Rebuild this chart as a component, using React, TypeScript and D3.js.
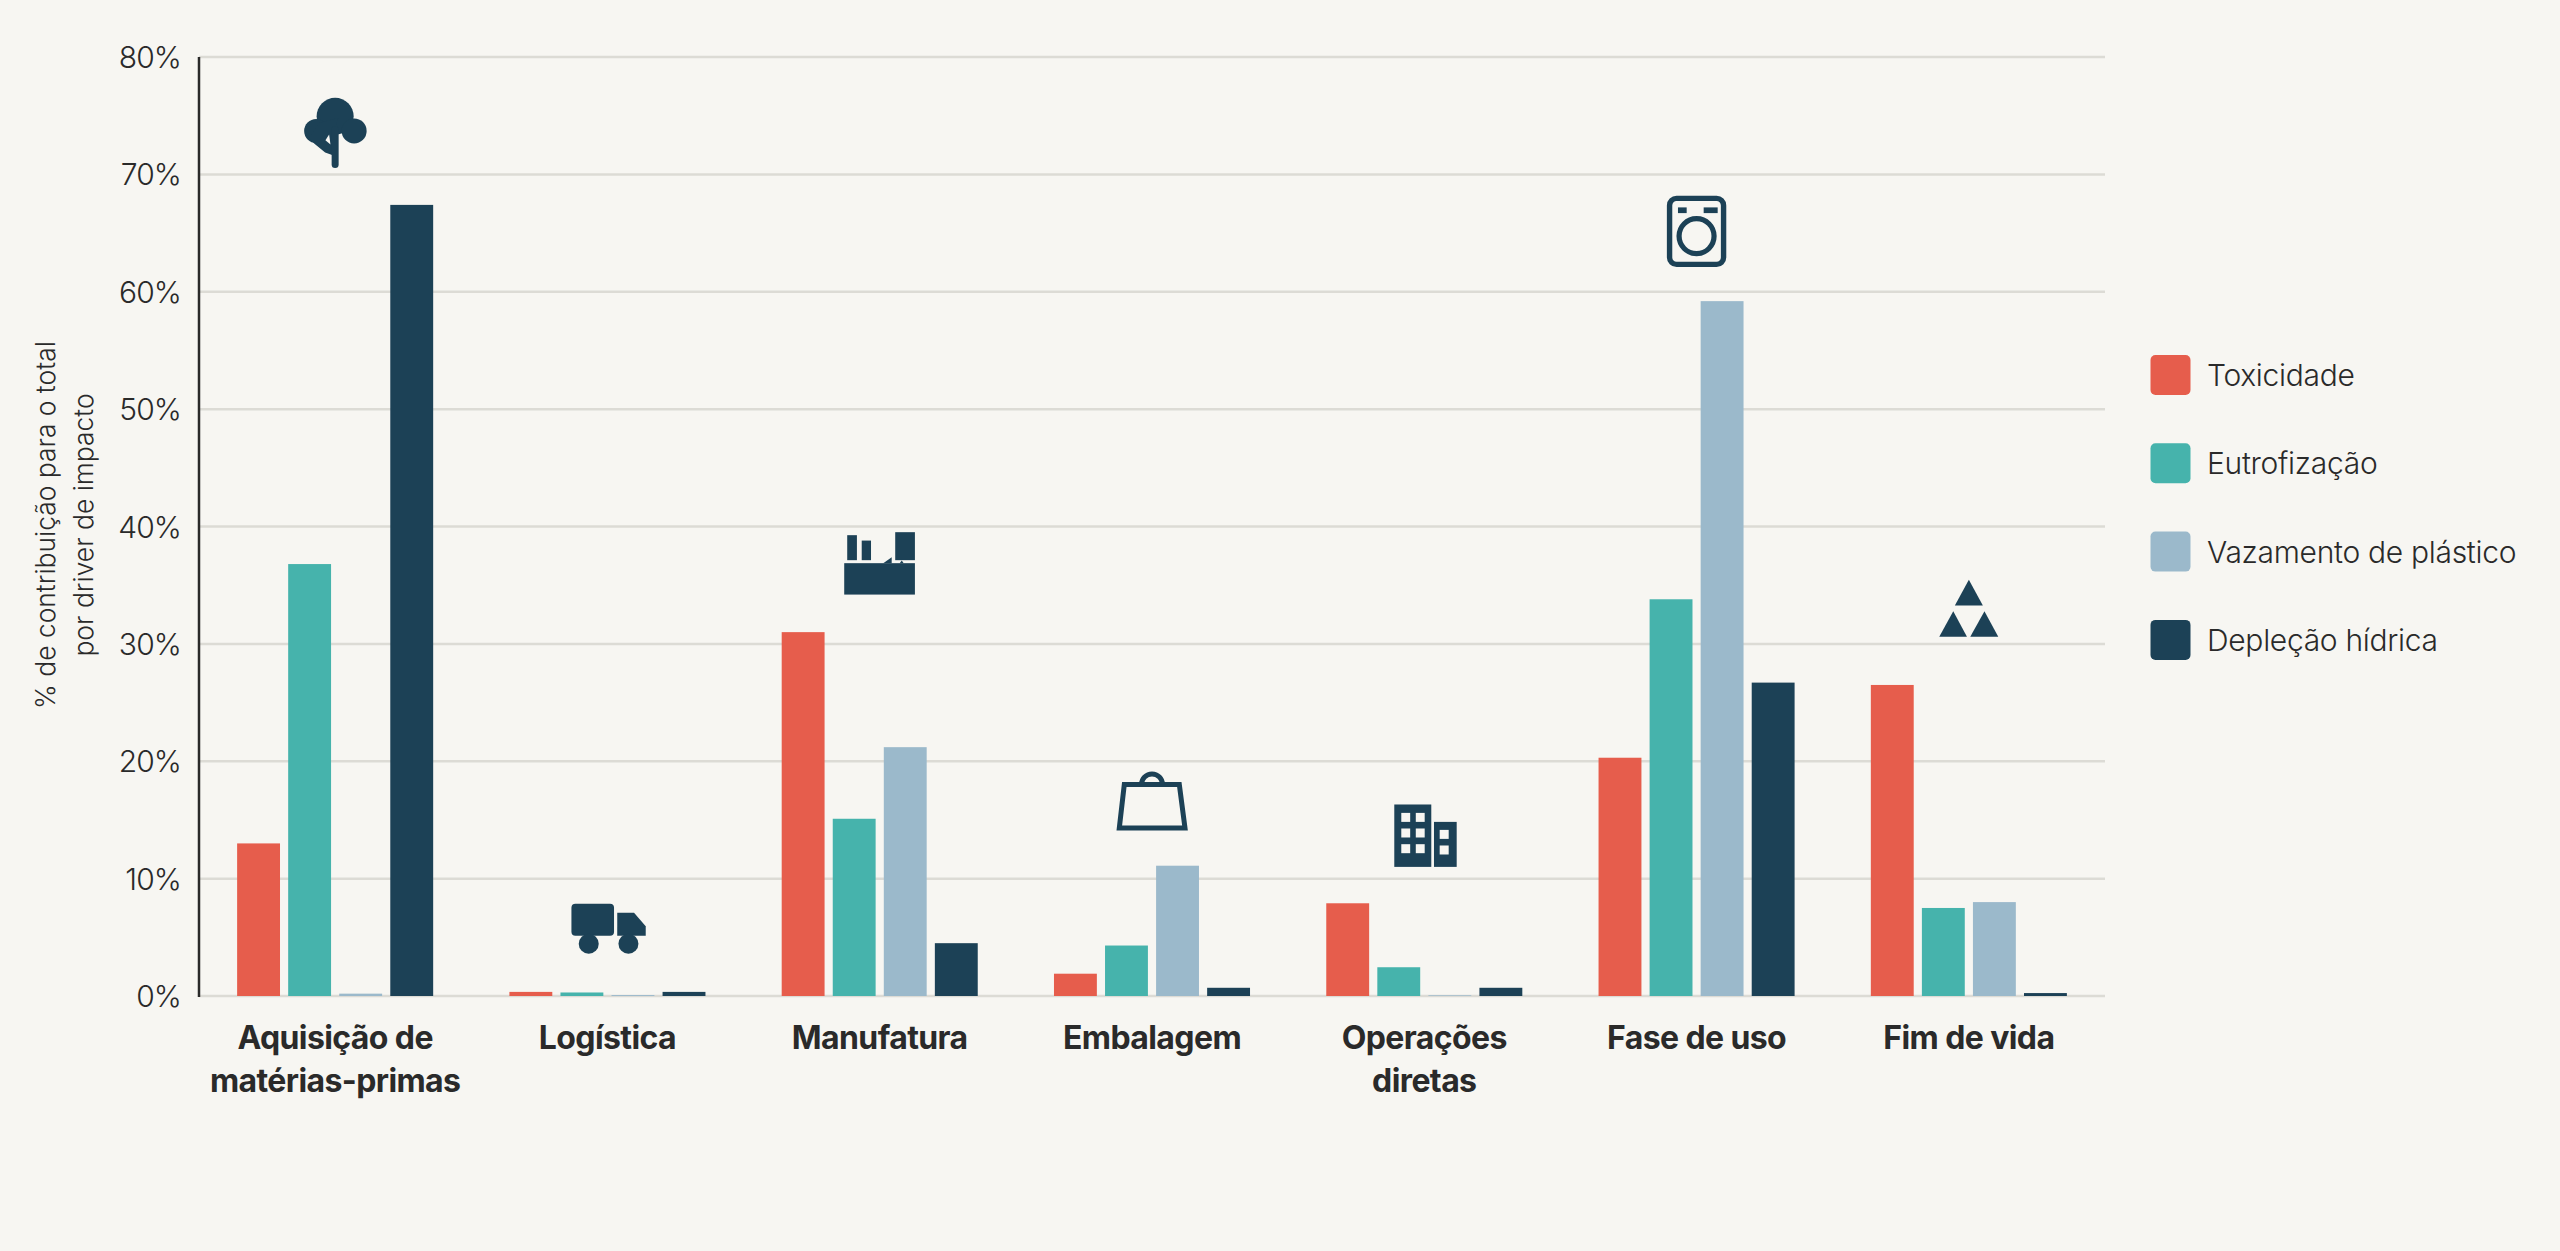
import React from "react";
import * as d3 from "d3";

const categories = ["Aquisição de matérias-primas", "Logística", "Manufatura", "Embalagem", "Operações diretas", "Fase de uso", "Fim de vida"];
const categoryLines = [["Aquisição de", "matérias-primas"], ["Logística"], ["Manufatura"], ["Embalagem"], ["Operações", "diretas"], ["Fase de uso"], ["Fim de vida"]];
const seriesNames = ["Toxicidade", "Eutrofização", "Vazamento de plástico", "Depleção hídrica"];
const seriesColors = ["#E65D4C", "#46B3AC", "#9BB9CB", "#1C4156"];
const toxicidade = [13.0, 0.35, 31.0, 1.9, 7.9, 20.3, 26.5];
const eutrofizacao = [36.8, 0.3, 15.1, 4.3, 2.45, 33.8, 7.5];
const vazamento = [0.2, 0.08, 21.2, 11.1, 0.06, 59.2, 8.0];
const deplecao = [67.4, 0.35, 4.5, 0.7, 0.7, 26.7, 0.25];
const seriesValues = [toxicidade, eutrofizacao, vazamento, deplecao];
const yTicks = [0, 10, 20, 30, 40, 50, 60, 70, 80];
const iconLevels = [70.55, 3.6, 34.2, 14.1, 11.0, 62.1, 30.6];
const yTitle = ["% de contribuição para o total", "por driver de impacto"];

const W = 2560, H = 1251;
const BG = "#F7F6F2", DARK = "#1C4156", TEXT = "#2A2A2A", GRID = "#DCDBD5";
const FONT = "Inter, sans-serif";

const x0 = d3.scaleBand<string>().domain(categories).range([199, 2105]).paddingInner(0.28).paddingOuter(0.14);
const x1 = d3.scaleBand<string>().domain(seriesNames).range([0, x0.bandwidth()]).paddingInner(0.16);
const y = d3.scaleLinear().domain([0, 80]).range([996, 57]);

// Each icon is drawn in local units: x = 0 is the group's centre, y = 0 is the icon's bottom edge.
function Icon({ index }: { index: number }) {
  switch (index) {
    case 0:
      return (
        <g fill={DARK}>
          <circle cx={0} cy={-51.7} r={18.5} />
          <circle cx={-19} cy={-37} r={12} />
          <circle cx={19} cy={-37} r={12.5} />
          <path d="M-26,-30 L-21,-24.5 L-10,-15.5 L-3,-13 L-3,-30 L3,-50 L-16,-45 Z" />
          <path d="M-6,-33.4 L-9.7,-27.7 L-4.7,-23.4 Z" fill={BG} />
          <rect x={-3.5} y={-42} width={7} height={42} rx={3.5} />
        </g>
      );
    case 1:
      return (
        <g fill={DARK}>
          <rect x={-36} y={-50} width={42.6} height={32} rx={4} />
          <path d="M9.8,-41 L26.6,-41 L38.3,-27.6 L38.3,-18 L9.8,-18 Z" />
          <circle cx={-18.7} cy={-10} r={10} />
          <circle cx={21} cy={-10} r={10} />
        </g>
      );
    case 2:
      return (
        <g fill={DARK}>
          <rect x={-32.5} y={-59.4} width={9.7} height={25} />
          <rect x={-18} y={-54} width={9.3} height={19.6} />
          <rect x={15.5} y={-62.4} width={19.7} height={28} />
          <rect x={-35.5} y={-31.4} width={70.7} height={31.4} />
          <path d="M3.5,-31.4 L12,-37.4 L12,-31.4 Z" />
          <path d="M20,-31.4 L22,-34 L24,-31.4 Z" />
        </g>
      );
    case 3:
      return (
        <g fill="none" stroke={DARK} strokeWidth={5}>
          <path d="M-27.7,-46 L27.3,-46 L33,-2.5 L-32.7,-2.5 Z" />
          <path d="M-10.5,-46 A10.5,10.5 0 0 1 10.5,-46" />
        </g>
      );
    case 4:
      return (
        <g>
          <rect x={-30} y={-62.4} width={37} height={62.4} fill={DARK} />
          <rect x={9.7} y={-45} width={22.7} height={45} fill={DARK} />
          {[-23, -8.5].flatMap((wx) =>
            [-54, -38.4, -22.7].map((wy) => <rect key={`${wx}${wy}`} x={wx} y={wy} width={8.9} height={9} fill={BG} />)
          )}
          {[-37, -21.4].map((wy) => <rect key={wy} x={15.4} y={wy} width={9} height={9} fill={BG} />)}
        </g>
      );
    case 5:
      return (
        <g>
          <rect x={-27} y={-68.7} width={54} height={66} rx={7} fill="none" stroke={DARK} strokeWidth={5.4} />
          <rect x={-18.6} y={-59.7} width={8.7} height={5.7} fill={DARK} />
          <rect x={7.1} y={-59.7} width={14} height={5.7} fill={DARK} />
          <circle cx={0} cy={-31} r={17.5} fill="none" stroke={DARK} strokeWidth={5.2} />
        </g>
      );
    default:
      return (
        <g fill={DARK}>
          <path d="M0,-57 L14,-31.3 L-14,-31.3 Z" />
          <path d="M-15.6,-25.6 L-1.9,0 L-29.6,0 Z" />
          <path d="M15.6,-25.6 L29.4,0 L1.4,0 Z" />
        </g>
      );
  }
}

export default function App() {
  return (
    <svg width={W} height={H} viewBox={`0 0 ${W} ${H}`} style={{ position: "absolute", left: 0, top: 0, display: "block" }} fontFamily={FONT}>
      <rect width={W} height={H} fill={BG} />
      {yTicks.map((t) => (
        <g key={t}>
          <line x1={199} x2={2105} y1={y(t)} y2={y(t)} stroke={GRID} strokeWidth={2.5} />
          <text x={181} y={y(t) + 11} textAnchor="end" fontSize={30} fontWeight={300} letterSpacing={-0.9} fill={TEXT}>{t}%</text>
        </g>
      ))}
      <line x1={199} x2={199} y1={y(80)} y2={y(0) + 1} stroke={TEXT} strokeWidth={2.5} />
      {categories.map((c, i) => (
        <g key={c} transform={`translate(${x0(c)},0)`}>
          {seriesNames.map((s, j) => (
            <rect key={s} x={x1(s)} y={y(seriesValues[j][i])} width={x1.bandwidth()} height={y(0) - y(seriesValues[j][i])} fill={seriesColors[j]} />
          ))}
        </g>
      ))}
      {categories.map((c, i) => (
        <g key={c} transform={`translate(${x0(c)! + x0.bandwidth() / 2},${y(iconLevels[i])})`}>
          <Icon index={i} />
        </g>
      ))}
      {categories.map((c, i) => (
        <text key={c} textAnchor="middle" fontSize={32} fontWeight={700} letterSpacing={-0.6} fill={TEXT}>
          {categoryLines[i].map((l, k) => (
            <tspan key={k} x={x0(c)! + x0.bandwidth() / 2} y={1049 + k * 43}>{l}</tspan>
          ))}
        </text>
      ))}
      <g transform="translate(65,525) rotate(-90)">
        {yTitle.map((l, k) => (
          <text key={l} x={0} y={-10 + k * 38} textAnchor="middle" fontSize={26.4} fontWeight={300} fill={TEXT}>{l}</text>
        ))}
      </g>
      {seriesNames.map((s, j) => (
        <g key={s} transform={`translate(2150.5,${355 + j * 88.3})`}>
          <rect width={40} height={40} rx={5} fill={seriesColors[j]} />
          <text x={56.5} y={31} fontSize={30} fontWeight={300} letterSpacing={-0.3} fill={TEXT}>{s}</text>
        </g>
      ))}
    </svg>
  );
}
